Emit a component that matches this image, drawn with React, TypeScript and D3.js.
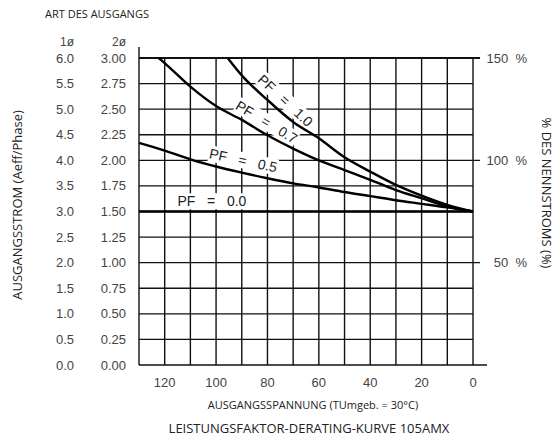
import React from "react";
import * as d3 from "d3";

// Ausgangsspannung (V), Ausgangsstrom 1ø (A)
const pf10Volt = [95.5, 90, 80, 70, 60, 50, 40, 30, 20, 10, 0];
const pf10Amp = [6.0, 5.66, 5.18, 4.75, 4.43, 4.06, 3.78, 3.52, 3.31, 3.13, 3.0];
const pf07Volt = [122.3, 120, 110, 100, 90, 80, 70, 60, 50, 40, 30, 20, 10, 0];
const pf07Amp = [6.0, 5.9, 5.44, 5.06, 4.79, 4.49, 4.23, 4.0, 3.81, 3.62, 3.42, 3.26, 3.1, 3.0];
const pf05Volt = [130, 120, 110, 100, 90, 80, 70, 60, 50, 40, 30, 20, 10, 0];
const pf05Amp = [4.34, 4.19, 4.02, 3.88, 3.76, 3.65, 3.55, 3.47, 3.38, 3.3, 3.22, 3.15, 3.08, 3.0];
const pf00Volt = [130, 0];
const pf00Amp = [3.0, 3.0];

const xTicks = [120, 100, 80, 60, 40, 20, 0];
const ampTicks = d3.range(0, 6.01, 0.5);
const pctTicks = [50, 100, 150];
const curveNames = ["PF = 1.0", "PF = 0.7", "PF = 0.5", "PF = 0.0"];

const W = 558;
const H = 436;
const left = 139, right = 473, top = 58, bottom = 365;

const x = d3.scaleLinear().domain([130, 0]).range([left, right]);
const y = d3.scaleLinear().domain([0, 6]).range([bottom, top]);
const y2 = d3.scaleLinear().domain([0, 3]).range([bottom, top]);
const yPct = d3.scaleLinear().domain([0, 150]).range([bottom, top]);

const line = d3
  .line<[number, number]>()
  .x((d) => x(d[0]))
  .y((d) => y(d[1]))
  .curve(d3.curveMonotoneX);

const zip = (a: number[], b: number[]) => a.map((v, i) => [v, b[i]] as [number, number]);

const curves = [
  zip(pf10Volt, pf10Amp),
  zip(pf07Volt, pf07Amp),
  zip(pf05Volt, pf05Amp),
  zip(pf00Volt, pf00Amp),
];

// where each label sits (volt, amp) and its rotation
const labelPos = [
  { v: 73, a: 5.17, rot: 43 },
  { v: 80.3, a: 4.75, rot: 31 },
  { v: 89.4, a: 4.0, rot: 12 },
  { v: 101.6, a: 3.2, rot: 0 },
];

const tickFont = "'Liberation Sans', Arial, sans-serif";
const titleFont = "'Open Sans', 'Noto Sans', sans-serif";

function CurveLabels({ bg }: { bg: boolean }) {
  return (
    <g fontFamily={tickFont} fontSize={14} fill="#222">
      {labelPos.map((l, i) => (
        <g key={"l" + i} transform={`translate(${x(l.v)},${y(l.a)}) rotate(${l.rot})`}>
          {bg ? (
            <rect x={-35} y={-8} width={70} height={16} fill="#fff" />
          ) : (
            <text textAnchor="middle" dy="0.36em" style={{ whiteSpace: "pre" }}>
              {curveNames[i].replace(/ = /, "   =   ")}
            </text>
          )}
        </g>
      ))}
    </g>
  );
}

export default function App() {
  const vGrid = d3.range(130, -1, -10);
  return (
    <svg
      width={W}
      height={H}
      style={{ position: "absolute", left: 0, top: 0, background: "#fff" }}
    >
      <rect width={W} height={H} fill="#fff" />
      <text x={45} y={18} fontFamily={titleFont} fontSize={11} fill="#222">
        ART DES AUSGANGS
      </text>
      <text x={67} y={46} textAnchor="middle" fontFamily={tickFont} fontSize={12} fill="#444">
        1ø
      </text>
      <text x={119} y={46} textAnchor="middle" fontFamily={tickFont} fontSize={12} fill="#444">
        2ø
      </text>

      {/* grid */}
      <g stroke="#111" strokeWidth={1.4}>
        {vGrid.map((v) => (
          <line
            key={"v" + v}
            x1={x(v)}
            x2={x(v)}
            y1={v === 130 ? top - 11 : top}
            y2={bottom}
          />
        ))}
        {ampTicks.map((a) => {
          const ext = a === 0 ? 487 : a === 6 || a === 4 || a === 2 ? 480 : right;
          return (
            <line
              key={"h" + a}
              x1={left}
              x2={ext}
              y1={y(a)}
              y2={y(a)}
              strokeWidth={a === 6 ? 2 : 1.4}
            />
          );
        })}
      </g>

      {/* left tick labels */}
      <g fontFamily={tickFont} fontSize={13} fill="#444">
        {ampTicks.map((a) => (
          <g key={"t" + a}>
            <text x={65} y={y(a)} dy="0.35em" textAnchor="middle">
              {a.toFixed(1)}
            </text>
            <text x={126} y={y2(a / 2)} dy="0.35em" textAnchor="end">
              {(a / 2).toFixed(2)}
            </text>
          </g>
        ))}
      </g>

      {/* right tick labels */}
      <g fontFamily={tickFont} fontSize={13} fill="#444">
        {pctTicks.map((p) => (
          <text key={"p" + p} x={527} y={yPct(p)} dy="0.35em" textAnchor="end" style={{ whiteSpace: "pre" }}>
            {p + "  %"}
          </text>
        ))}
      </g>

      {/* bottom tick labels */}
      <g fontFamily={tickFont} fontSize={13} fill="#444">
        {xTicks.map((v) => (
          <text key={"x" + v} x={x(v)} y={382} dy="0.35em" textAnchor="middle">
            {v}
          </text>
        ))}
      </g>

      <CurveLabels bg={true} />

      {/* curves */}
      <g fill="none" stroke="#000" strokeWidth={2.4}>
        {curves.map((c, i) => (
          <path key={"c" + i} d={line(c) || ""} />
        ))}
      </g>

      <CurveLabels bg={false} />

      {/* axis titles */}
      <text
        transform={`translate(22,205) rotate(-90)`}
        textAnchor="middle"
        fontFamily={titleFont}
        fontSize={13}
        fill="#222"
      >
        AUSGANGSSTROM (Aeff/Phase)
      </text>
      <text
        transform={`translate(542,193) rotate(90)`}
        textAnchor="middle"
        fontFamily={titleFont}
        fontSize={13}
        fill="#222"
      >
        % DES NENNSTROMS (%)
      </text>
      <text x={313} y={409} textAnchor="middle" fontFamily={titleFont} fontSize={11} fill="#222">
        AUSGANGSSPANNUNG (TUmgeb. = 30°C)
      </text>
      <text x={309} y={433} textAnchor="middle" fontFamily={titleFont} fontSize={13} fill="#222">
        LEISTUNGSFAKTOR-DERATING-KURVE 105AMX
      </text>
    </svg>
  );
}
